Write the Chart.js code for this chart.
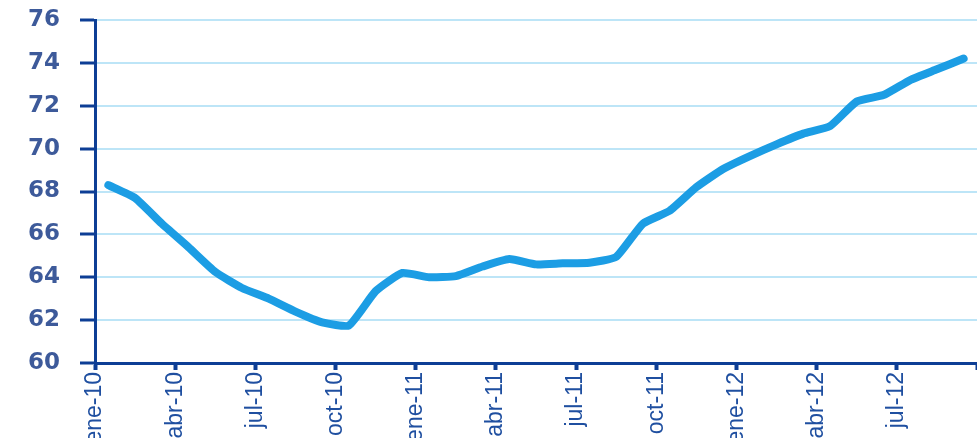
<!DOCTYPE html>
<html>
<head>
<meta charset="utf-8">
<script src="https://cdn.jsdelivr.net/npm/chart.js@4/dist/chart.umd.min.js"></script>
<style>
    html, body { margin: 0; padding: 0; background: #fff; }
    #wrap { width: 977px; height: 438px; }
</style>
</head>
<body>
<div id="wrap"><canvas id="grafico"></canvas></div>
<script>
// Meses (ene-10 .. sep-12)
const meses = [
    'ene-10', 'feb-10', 'mar-10', 'abr-10', 'may-10', 'jun-10',
    'jul-10', 'ago-10', 'sep-10', 'oct-10', 'nov-10', 'dic-10',
    'ene-11', 'feb-11', 'mar-11', 'abr-11', 'may-11', 'jun-11',
    'jul-11', 'ago-11', 'sep-11', 'oct-11', 'nov-11', 'dic-11',
    'ene-12', 'feb-12', 'mar-12', 'abr-12', 'may-12', 'jun-12',
    'jul-12', 'ago-12', 'sep-12'
];

// Valores
const valores = [
    68.3, 67.7, 66.5, 65.4, 64.25, 63.5,
    63.0, 62.4, 61.9, 61.75, 63.35, 64.2,
    64.0, 64.05, 64.5, 64.85, 64.6, 64.65,
    64.68, 64.95, 66.5, 67.1, 68.2, 69.05,
    69.65, 70.2, 70.7, 71.05, 72.2, 72.5,
    73.2, 73.7, 74.2
];

// Marcas del eje Y
const yMin = 60;
const yMax = 76;
const yPaso = 2;

// Etiquetas del eje X cada trimestre
const pasoTrimestre = 3;

const azulEje = '#0d3e95';

// Cada punto va en el centro de su mes
const puntos = valores.map((v, i) => ({ x: i + 0.5, y: v }));

const ctx = document.getElementById('grafico').getContext('2d');
new Chart(ctx, {
    type: 'line',
    data: {
        datasets: [{
            data: puntos,
            borderColor: '#1c9de4',
            borderWidth: 8,
            tension: 0.15,
            pointRadius: 0,
            borderCapStyle: 'round',
            borderJoinStyle: 'round',
            fill: false
        }]
    },
    options: {
        responsive: true,
        maintainAspectRatio: false,
        animation: false,
        layout: { padding: { top: 20, right: 0, bottom: 0, left: 0 } },
        plugins: {
            legend: { display: false },
            tooltip: { enabled: false }
        },
        scales: {
            x: {
                type: 'linear',
                min: 0,
                max: meses.length,
                afterFit: (s) => {
                    // etiquetas cortadas abajo, como en el original
                    s.height = 75;
                    s.paddingLeft = 0;
                    s.paddingRight = 0;
                },
                ticks: {
                    stepSize: pasoTrimestre,
                    autoSkip: false,
                    maxRotation: 90,
                    minRotation: 90,
                    padding: 2,
                    color: '#1f4fa0',
                    font: { family: "'Liberation Sans Narrow', 'Liberation Sans', Arial", size: 23 },
                    callback: (v) => (v % pasoTrimestre === 0 && meses[v]) ? meses[v] : ''
                },
                grid: {
                    drawOnChartArea: false,
                    tickLength: 7,
                    tickColor: azulEje,
                    tickWidth: 4
                },
                border: { color: azulEje, width: 3 }
            },
            y: {
                min: yMin,
                max: yMax,
                afterFit: (s) => {
                    s.width = 95;
                    s.paddingTop = 0;
                    s.paddingBottom = 0;
                },
                ticks: {
                    stepSize: yPaso,
                    padding: 20,
                    color: '#3d5a9a',
                    font: { family: "'DejaVu Sans'", weight: 'bold', size: 23 }
                },
                grid: {
                    color: '#bde5f7',
                    lineWidth: 2,
                    tickColor: azulEje,
                    tickLength: 15,
                    tickWidth: 3
                },
                border: { color: azulEje, width: 3 }
            }
        }
    }
});
</script>
</body>
</html>
